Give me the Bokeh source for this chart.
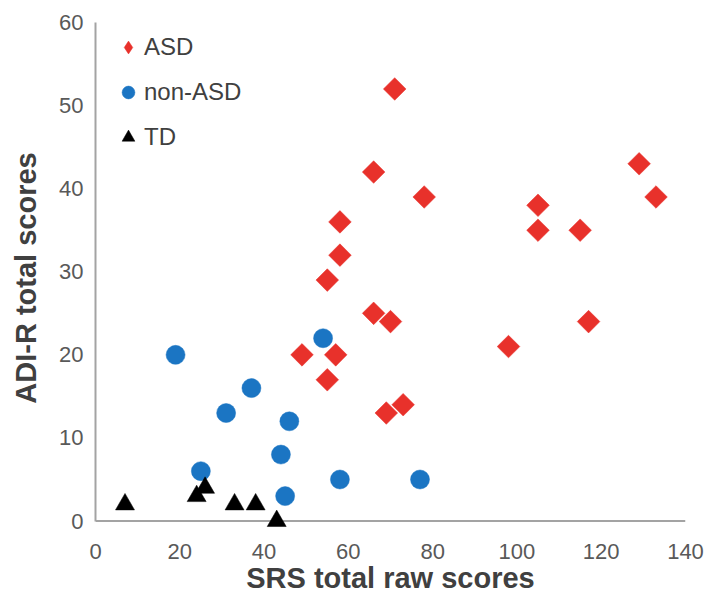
import numpy as np
from bokeh.plotting import figure
from bokeh.models import Range1d, FixedTicker, Span, Legend, LegendItem
from bokeh.embed import file_html
from bokeh.resources import INLINE

# ---- data ----
asd_srs = [71, 66, 78, 58, 58, 129, 133, 105, 105, 115, 117, 55, 66, 70, 49, 57, 55, 73, 69, 98]
asd_adi = [52, 42, 39, 36, 32, 43, 39, 38, 35, 35, 24, 29, 25, 24, 20, 20, 17, 14, 13, 21]
nonasd_srs = [19, 54, 37, 31, 46, 44, 25, 58, 45, 77]
nonasd_adi = [20, 22, 16, 13, 12, 8, 6, 5, 3, 5]
td_srs = [7, 24, 26, 33, 38, 43]
td_adi = [2, 3, 4, 2, 2, 0]
x_ticks = [0, 20, 40, 60, 80, 100, 120, 140]
y_ticks = [0, 10, 20, 30, 40, 50, 60]
series_names = ["ASD", "non-ASD", "TD"]

RED = "#E8312B"
BLUE = "#1B75C3"
AXIS = "#A3A3A3"
FONT = "Liberation Sans"

p = figure(width=707, height=603,
           x_range=Range1d(0, 140), y_range=Range1d(-1.5, 60),
           output_backend="svg", toolbar_location=None,
           min_border_left=95, min_border_right=22,
           min_border_top=22, min_border_bottom=70)
p.outline_line_color = None
p.xgrid.visible = False
p.ygrid.visible = False
p.background_fill_color = "white"
p.border_fill_color = "white"

r_asd = p.scatter(asd_srs, asd_adi, marker="square", size=16, angle=np.pi / 4,
                  fill_color=RED, line_color=RED, line_width=0.5)
r_non = p.scatter(nonasd_srs, nonasd_adi, marker="circle", size=19,
                  fill_color=BLUE, line_color=BLUE, line_width=0.5)
r_td = p.scatter(td_srs, td_adi, marker="triangle", size=19,
                 fill_color="black", line_color="black", line_width=0.5)
# legend-only key for ASD (legend glyphs are never rotated); NaN => not drawn in plot
r_asd_key = p.scatter(x=[np.nan], y=[np.nan], marker="diamond", size=16,
                      fill_color=RED, line_color=RED, line_width=0.5)

# x axis line drawn at y = 0
p.add_layout(Span(location=0, dimension="width", line_color=AXIS,
                  line_width=2, level="underlay"))

for ax, ticks in ((p.xaxis, x_ticks), (p.yaxis, y_ticks)):
    ax.ticker = FixedTicker(ticks=ticks)
    ax.major_tick_line_color = None
    ax.minor_tick_line_color = None
    ax.major_label_text_font = FONT
    ax.major_label_text_font_size = "22px"
    ax.major_label_text_color = "#595959"
    ax.axis_label_text_font = FONT
    ax.axis_label_text_font_style = "bold"
    ax.axis_label_text_font_size = "29px"
    ax.axis_label_text_color = "#404040"

p.xaxis.axis_line_color = None
p.xaxis.major_label_standoff = 4
p.xaxis.axis_label = "SRS total raw scores"
p.xaxis.axis_label_standoff = 0

p.yaxis.bounds = (0, 60)
p.yaxis.axis_line_color = AXIS
p.yaxis.axis_line_width = 2
p.yaxis.major_label_standoff = 6
p.yaxis.axis_label = "ADI-R total scores"
p.yaxis.axis_label_standoff = 14

legend = Legend(items=[LegendItem(label=series_names[0], renderers=[r_asd_key]),
                       LegendItem(label=series_names[1], renderers=[r_non]),
                       LegendItem(label=series_names[2], renderers=[r_td])],
                location=(17, 380), glyph_width=32, glyph_height=32,
                spacing=13, padding=10, margin=0, label_standoff=0,
                label_text_font=FONT, label_text_font_size="24px",
                label_text_color="#404040",
                border_line_color=None, background_fill_alpha=0)
p.add_layout(legend)

open("out.html", "w").write(file_html(p, INLINE))
